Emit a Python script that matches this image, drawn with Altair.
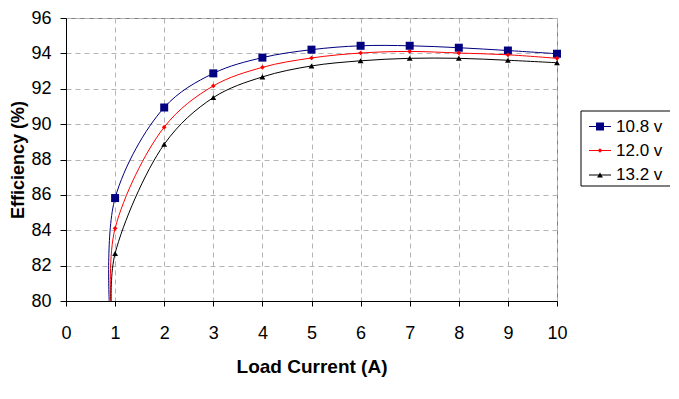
import altair as alt
import pandas as pd

# ---- data ----
currents = [1, 2, 3, 4, 5, 6, 7, 8, 9, 10]
eff_108 = [85.82, 90.94, 92.87, 93.76, 94.21, 94.43, 94.43, 94.32, 94.16, 93.98]
eff_120 = [84.11, 89.83, 92.16, 93.21, 93.74, 94.02, 94.11, 94.02, 93.92, 93.72]
eff_132 = [82.69, 88.86, 91.50, 92.67, 93.29, 93.58, 93.72, 93.72, 93.61, 93.47]
# start of each curve (below the visible range, no marker)
start_current = [0.88, 0.91, 0.92]
start_eff = [80.0, 80.0, 80.0]

series = ["10.8 v", "12.0 v", "13.2 v"]
colors = ["#000080", "#FF0000", "#000000"]
shapes = ["square", "diamond", "triangle-up"]
sizes = [64, 22, 34]
all_eff = [eff_108, eff_120, eff_132]
x_ticks = [0, 1, 2, 3, 4, 5, 6, 7, 8, 9, 10]
y_ticks = [80, 82, 84, 86, 88, 90, 92, 94, 96]

FONT = "Liberation Sans"
W, H = 491, 283

xscale = alt.Scale(domain=[0, 10], nice=False, zero=False)
yscale = alt.Scale(domain=[80, 96], nice=False, zero=False)

xax = alt.Axis(values=x_ticks, title="Load Current (A)",
               grid=True, gridDash=[5, 4], gridColor="#b4b4b4",
               tickSize=5, labelPadding=18, titlePadding=15,
               labelFlush=False, labelOverlap=False,
               domainColor="#000000", tickColor="#000000")
yax = alt.Axis(values=y_ticks, title="Efficiency (%)",
               grid=True, gridDash=[5, 4], gridColor="#b4b4b4",
               tickSize=6, labelPadding=9, titlePadding=3,
               labelFlush=False, labelOverlap=False, labelSeparation=0,
               labelBound=False, tickCount=len(y_ticks),
               titleFontSize=18,
               domainColor="#000000", tickColor="#000000")

layers = []
for i, name in enumerate(series):
    line_df = pd.DataFrame({
        "current": [start_current[i]] + currents,
        "eff": [start_eff[i]] + all_eff[i],
    })
    pt_df = pd.DataFrame({"current": currents, "eff": all_eff[i]})
    if i == 0:
        xenc = alt.X("current:Q", scale=xscale, axis=xax)
        yenc = alt.Y("eff:Q", scale=yscale, axis=yax)
    else:
        xenc = alt.X("current:Q", scale=xscale)
        yenc = alt.Y("eff:Q", scale=yscale)
    line = alt.Chart(line_df).mark_line(
        color=colors[i], strokeWidth=1, interpolate="catmull-rom", clip=True
    ).encode(x=xenc, y=yenc)
    pts = alt.Chart(pt_df).mark_point(
        shape=shapes[i], filled=True, color=colors[i], size=sizes[i], opacity=1
    ).encode(
        x=alt.X("current:Q", scale=xscale),
        y=alt.Y("eff:Q", scale=yscale),
    )
    layers += [line, pts]

# ---- legend (drawn manually, outside the plot area) ----
leg_rows = [108.5, 132.5, 157]
legend_box = alt.Chart(pd.DataFrame({"a": [0]})).mark_rect(
    fill="white", stroke="#000000", strokeWidth=1
).encode(
    x=alt.value(515), x2=alt.value(605), y=alt.value(93), y2=alt.value(168)
)
layers.append(legend_box)
for i, name in enumerate(series):
    df = pd.DataFrame({"series": [name]})
    rule = alt.Chart(df).mark_rule(color=colors[i], strokeWidth=1).encode(
        x=alt.value(523), x2=alt.value(545), y=alt.value(leg_rows[i])
    )
    mk = alt.Chart(df).mark_point(
        shape=shapes[i], filled=True, color=colors[i], size=sizes[i], opacity=1
    ).encode(x=alt.value(534), y=alt.value(leg_rows[i]))
    tx = alt.Chart(df).mark_text(
        align="left", baseline="middle", font=FONT, fontSize=17, color="#000000"
    ).encode(x=alt.value(550), y=alt.value(leg_rows[i]), text="series:N")
    layers += [rule, mk, tx]

chart = alt.layer(*layers).properties(
    width=W, height=H,
    autosize=alt.AutoSizeParams(type="none"),
    padding={"left": 58, "top": 10, "right": 113, "bottom": 85},
).configure_view(
    stroke="#808080", strokeWidth=1
).configure_axis(
    labelFont=FONT, titleFont=FONT, labelFontSize=18, titleFontSize=19,
    labelColor="#000000", titleColor="#000000", titleFontWeight="bold",
    labelFontWeight="normal", domainWidth=1, tickWidth=1,
    labelOverlap=False
)

chart.save("out.html", embed_options={"renderer": "svg", "actions": False})
